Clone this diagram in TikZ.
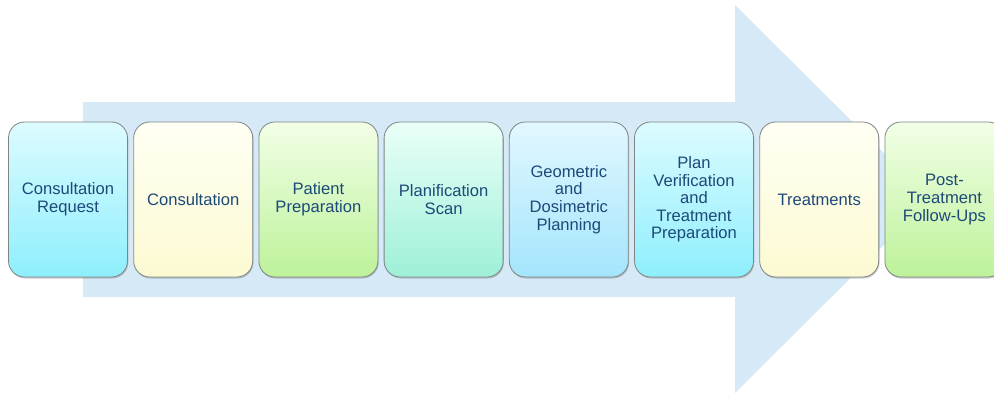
\documentclass[tikz,border=0pt]{standalone}
\usepackage{fontspec}
\setmainfont{Liberation Sans}
\usetikzlibrary{shadows}
\definecolor{arrowblue}{HTML}{D5EAF6}
\definecolor{txtblue}{HTML}{1C4A78}
\definecolor{boxborder}{HTML}{7F8585}
\definecolor{cyanT}{HTML}{DDFBFF}\definecolor{cyanB}{HTML}{8EEFFD}
\definecolor{yelT}{HTML}{FFFFF4}\definecolor{yelB}{HTML}{FCFAD2}
\definecolor{grnT}{HTML}{F2FFE6}\definecolor{grnB}{HTML}{BDF29A}
\definecolor{mintT}{HTML}{EAFFF8}\definecolor{mintB}{HTML}{9EF0D8}
\definecolor{blueT}{HTML}{E2F7FF}\definecolor{blueB}{HTML}{A4E5FC}
\tikzset{
  stepbox/.style={draw=boxborder, line width=0.8pt, rounded corners=16pt,
    minimum width=119pt, minimum height=155pt, text width=116pt, align=center,
    text=txtblue, font=\fontsize{16.6}{17.6}\selectfont, inner sep=0pt,
    drop shadow={shadow xshift=0.8pt, shadow yshift=-1.5pt, opacity=0.35, fill=black!60}},
  cyanbox/.style={stepbox, top color=cyanT, bottom color=cyanB},
  yelbox/.style={stepbox, top color=yelT, bottom color=yelB},
  grnbox/.style={stepbox, top color=grnT, bottom color=grnB},
  mintbox/.style={stepbox, top color=mintT, bottom color=mintB},
  bluebox/.style={stepbox, top color=blueT, bottom color=blueB},
  bigarrow/.style={fill=arrowblue, draw=none}
}
\begin{document}
\begin{tikzpicture}[x=1pt,y=-1pt]
\useasboundingbox (0,0) rectangle (994,399);
\fill[bigarrow] (83,102) -- (735,102) -- (735,5) -- (930,199) -- (735,393) -- (735,297) -- (83,297) -- cycle;
\node[cyanbox] (n1) at (68,199.5) {Consultation\\Request};
\node[yelbox]  (n2) at (193.2,199.5) {Consultation};
\node[grnbox]  (n3) at (318.4,199.5) {Patient\\Preparation};
\node[mintbox] (n4) at (443.6,199.5) {Planification\\Scan};
\node[bluebox] (n5) at (568.8,199.5) {Geometric\\and\\Dosimetric\\Planning};
\node[cyanbox] (n6) at (694,199.5) {Plan\\Verification\\and\\Treatment\\Preparation};
\node[yelbox]  (n7) at (819.2,199.5) {Treatments};
\node[grnbox]  (n8) at (944.4,199.5) {Post-\\Treatment\\Follow-Ups};
\end{tikzpicture}
\end{document}
